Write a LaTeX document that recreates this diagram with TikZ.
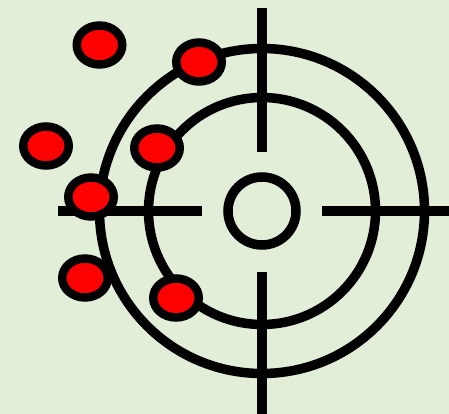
\documentclass[tikz,border=0pt]{standalone}
\usepackage{tikz}
\usepackage{xcolor}
\definecolor{bgpale}{RGB}{226, 238, 216}
\definecolor{hitred}{RGB}{255, 0, 0}
\usetikzlibrary{shapes.geometric, positioning}

\begin{document}
\begin{tikzpicture}[x=1pt, y=-1pt]
  % Background
  \fill[bgpale] (0,0) rectangle (449,414);
  \useasboundingbox (0,0) rectangle (449,414);
  \coordinate (c) at (262,211);
  % Rings
  \draw[line width=9.5] (c) circle[radius=162.5];
  \draw[line width=9.5] (c) circle[radius=113.5];
  \draw[line width=9.5] (c) circle[radius=34];
  % Crosshair
  \coordinate (top) at (262,8);
  \coordinate (topin) at (262,152);
  \coordinate (bot) at (262,414);
  \coordinate (botin) at (262,272);
  \coordinate (lft) at (58,211);
  \coordinate (lftin) at (202,211);
  \coordinate (rgt) at (449,211);
  \coordinate (rgtin) at (322,211);
  \draw[line width=9.5] (top) -- (topin);
  \draw[line width=9.5] (botin) -- (bot);
  \draw[line width=9.5] (lft) -- (lftin);
  \draw[line width=9.5] (rgtin) -- (rgt);
  % Hits
  \foreach \i/\p in {1/{99.5,45}, 2/{199,62}, 3/{46,146}, 4/{157,148},
                     5/{91,197}, 6/{85,278}, 7/{176,298}} {
    \node[draw=black, fill=hitred, ellipse, line width=8.5, inner sep=0pt,
          minimum width=45.5, minimum height=39] (h\i) at (\p) {};
  }
\end{tikzpicture}
\end{document}
